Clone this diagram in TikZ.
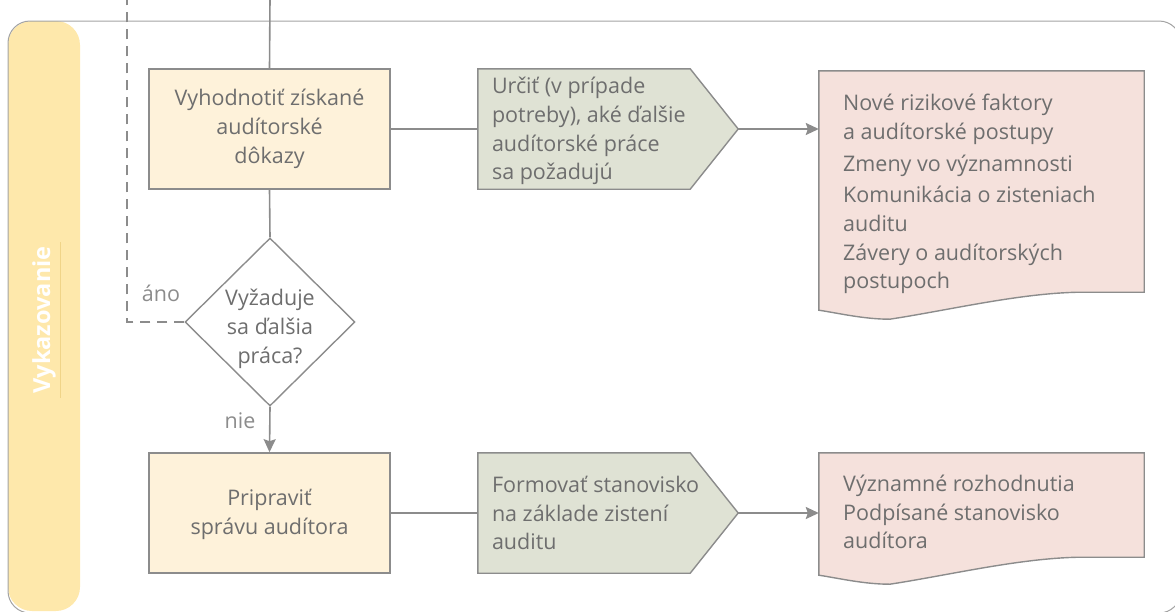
\documentclass[tikz,border=0pt]{standalone}
\usepackage{fontspec}
\setmainfont{Open Sans}
\usetikzlibrary{arrows.meta,shapes.geometric,calc,backgrounds}

\definecolor{txt}{HTML}{6E6E6E}
\definecolor{lbl}{HTML}{8C8C8C}
\definecolor{ln}{HTML}{8C8C8C}
\definecolor{framecol}{HTML}{A3A3A3}
\definecolor{band}{HTML}{FEE8AB}
\definecolor{bandline}{HTML}{F0D488}
\definecolor{boxfill}{HTML}{FEF2DA}
\definecolor{stepfill}{HTML}{DFE2D4}
\definecolor{docfill}{HTML}{F5E1DC}

\tikzset{
  fnt/.style={font=\fontsize{21.5}{28.7}\selectfont},
  conn/.style={draw=ln, line width=1.6pt},
  arr/.style={conn, -{Stealth[length=13pt,width=12pt,inset=2pt]}},
  loopline/.style={draw=ln, line width=1.4pt, dash pattern=on 10pt off 7pt},
  procbox/.style={fnt, draw=ln, fill=boxfill, line width=1.6pt,
    minimum width=241pt, minimum height=120pt, align=center, text=txt, inner sep=0pt},
  decision/.style={shape=diamond, draw=ln, fill=white, line width=1.4pt,
    minimum width=170pt, minimum height=168pt, aspect=1, inner sep=0pt},
  centertext/.style={fnt, text=txt, align=center, inner sep=0pt},
  stepbody/.style={minimum width=212pt, minimum height=120pt, inner sep=0pt},
  stepline/.style={draw=ln, fill=stepfill, line width=1.4pt},
  docbody/.style={minimum width=325pt, inner sep=0pt},
  docline/.style={draw=ln, fill=docfill, line width=1.4pt},
  bodytext/.style={fnt, text=txt, align=left, inner sep=0pt, anchor=west},
  edgelabel/.style={fnt, text=lbl, inner sep=0pt},
}

\begin{document}
\begin{tikzpicture}[x=1pt,y=-1pt]
\useasboundingbox (0,0) rectangle (1175,611);
\clip (0,0) rectangle (1175,611);

% swimlane band and frame
\fill[band, rounded corners=24pt] (8,21) rectangle (80,611);
\draw[framecol, line width=1pt, rounded corners=22pt] (8,21) rectangle (1181,613);
\node[rotate=90, text=white, font=\fontsize{23.5}{26}\bfseries, inner sep=4pt] (lane) at (44,320) {Vykazovanie};
\draw[bandline, line width=0.8pt] (lane.south west) -- (lane.south east);

% main column
\node[procbox] (a) at (269.5,129) {Vyhodnotiť získané\\audítorské\\dôkazy};
\node[decision] (dm) at (270,322) {};
\node[centertext] (dmt) at (270,329) {Vyžaduje\\sa ďalšia\\práca?};
\node[procbox] (b) at (269.5,513) {};
\node[centertext] (bt) at (269.5,514.5) {Pripraviť\\správu audítora};

% step shapes (pentagons)
\node[stepbody] (p1) at (584,129) {};
\node[bodytext] (p1t) at ($(p1.west)+(14,2)$) {Určiť (v prípade\\potreby), aké ďalšie\\audítorské práce\\sa požadujú};
\coordinate (t1) at ($(p1.east)+(48,0)$);
\node[stepbody] (p2) at (584,513) {};
\node[bodytext] (p2t) at ($(p2.west)+(14,0)$) {Formovať stanovisko\\na základe zistení\\auditu};
\coordinate (t2) at ($(p2.east)+(48,0)$);

% documents
\node[docbody, minimum height=221pt] (d1) at (981.5,181.5) {};
\node[bodytext] (d1t) at (843,194) {Nové rizikové faktory\\a audítorské postupy\\[4pt]Zmeny vo významnosti\\[2pt]Komunikácia o zisteniach\\auditu\\Závery o audítorských\\postupoch};
\node[docbody, minimum height=104pt] (d2) at (981.5,505) {};
\node[bodytext] (d2t) at (843,512) {Významné rozhodnutia\\Podpísané stanovisko\\audítora};

\begin{scope}[on background layer]
  \foreach \p/\t in {p1/t1, p2/t2}{
    \draw[stepline] (\p.north west) -- (\p.north east) -- (\t) -- (\p.south east) -- (\p.south west) -- cycle;
  }
  \foreach \d in {d1, d2}{
    \draw[docline] (\d.north west) -- (\d.north east) -- (\d.south east)
      -- ($(\d.south east)+(-65,0)$)
      .. controls ($(\d.south east)+(-125,1)$) and ($(\d.south west)+(130,18)$) .. ($(\d.south west)+(71,27)$)
      .. controls ($(\d.south west)+(45,27)$) and ($(\d.south west)+(20,21)$) .. ($(\d.south west)+(0,18)$)
      -- cycle;
  }
\end{scope}

% connectors
\coordinate (inTop) at (270,-2);
\coordinate (loopTop) at (127,-2);
\draw[conn] (inTop) -- (a.north);
\draw[conn] (a.south) -- (dm.north);
\draw[arr] (dm.south) -- (b.north);
\draw[loopline] (dm.west) -| (loopTop);
\draw[conn] (a.east) -- (p1.west);
\draw[arr] (t1) -- (t1 -| d1.west);
\draw[conn] (b.east) -- (p2.west);
\draw[arr] (t2) -- (t2 -| d2.west);

% branch labels
\node[edgelabel] (yes) at (161,293) {áno};
\node[edgelabel] (no) at (240,421) {nie};
\end{tikzpicture}
\end{document}
